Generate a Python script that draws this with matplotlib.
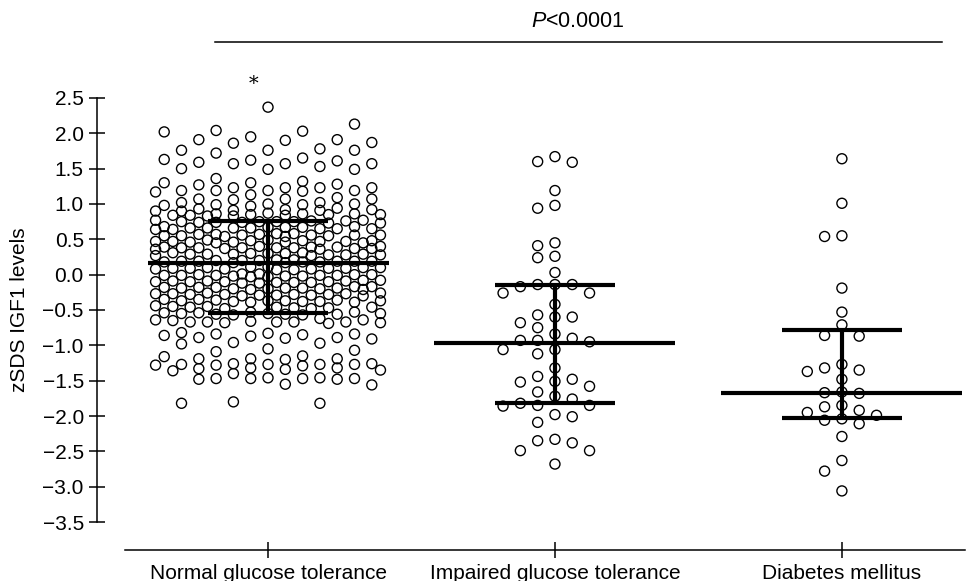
import numpy as np
import matplotlib
matplotlib.use('Agg')
import matplotlib.pyplot as plt

plt.rcParams['font.family'] = ['Liberation Sans', 'DejaVu Sans']
plt.rcParams['mathtext.fontset'] = 'custom'
plt.rcParams['mathtext.it'] = 'Liberation Sans:italic'
plt.rcParams['mathtext.rm'] = 'Liberation Sans'

# Daten
groups = ['Normal glucose tolerance', 'Impaired glucose tolerance', 'Diabetes mellitus']

ngt = [
    2.37, 2.13, 2.04, 2.02, 2.03, 1.95, 1.91, 1.87, 1.86, 1.90, 1.91, 1.78,
    1.76, 1.72, 1.76, 1.76, 1.63, 1.62, 1.57, 1.57, 1.53, 1.57, 1.59, 1.61,
    1.65, 1.49, 1.49, 1.50, 1.32, 1.30, 1.27, 1.23, 1.28, 1.23, 1.30, 1.36,
    1.23, 1.23, 1.19, 1.19, 1.17, 1.18, 1.19, 1.19, 1.09, 1.07, 1.06, 1.02,
    1.02, 1.07, 1.07, 1.13, 1.00, 0.99, 0.98, 0.97, 0.99, 1.00,
    0.93, 0.91, 0.92, 0.90, 0.94, 0.91, 0.92, 0.90,
    0.86, 0.84, 0.85, 0.87, 0.83, 0.85, 0.86, 0.84, 0.85, 0.83, 0.86, 0.84,
    0.76, 0.74, 0.75, 0.77, 0.73, 0.75, 0.74, 0.76, 0.75, 0.73, 0.77, 0.74, 0.75,
    0.67, 0.65, 0.66, 0.68, 0.64, 0.66, 0.67, 0.65, 0.66, 0.64, 0.68, 0.65, 0.66, 0.67,
    0.57, 0.55, 0.56, 0.58, 0.54, 0.56, 0.57, 0.55, 0.56, 0.54, 0.58, 0.55, 0.56, 0.57,
    0.48, 0.46, 0.47, 0.49, 0.45, 0.47, 0.48, 0.46, 0.47, 0.45, 0.49, 0.46, 0.47, 0.48,
    0.39, 0.37, 0.38, 0.40, 0.36, 0.38, 0.39, 0.37, 0.38, 0.36, 0.40, 0.37, 0.38, 0.39, 0.38,
    0.30, 0.28, 0.29, 0.31, 0.27, 0.29, 0.30, 0.28, 0.29, 0.27, 0.31, 0.28, 0.29, 0.30,
    0.20, 0.18, 0.19, 0.21, 0.17, 0.19, 0.20, 0.18, 0.19, 0.17, 0.21, 0.18, 0.19, 0.20, 0.19,
    0.10, 0.08, 0.09, 0.11, 0.07, 0.09, 0.10, 0.08, 0.09, 0.07, 0.11, 0.08, 0.09, 0.10,
    0.00, -0.02, -0.01, 0.01, -0.03, -0.01, 0.00, -0.02, -0.01, -0.03, 0.01, -0.02, -0.01, 0.00, -0.01,
    -0.09, -0.11, -0.10, -0.08, -0.12, -0.10, -0.09, -0.11, -0.10, -0.12, -0.08, -0.11, -0.10, -0.09,
    -0.18, -0.20, -0.19, -0.17, -0.21, -0.19, -0.18, -0.20, -0.19, -0.21, -0.17, -0.20, -0.19, -0.18,
    -0.27, -0.29, -0.28, -0.26, -0.30, -0.28, -0.27, -0.29, -0.28, -0.30, -0.26, -0.29, -0.28, -0.27,
    -0.36, -0.38, -0.37, -0.35, -0.39, -0.37, -0.36, -0.38, -0.37, -0.39, -0.35, -0.38, -0.37,
    -0.45, -0.47, -0.46, -0.44, -0.48, -0.46, -0.45, -0.47, -0.46, -0.48,
    -0.54, -0.56, -0.55, -0.53, -0.57, -0.55, -0.54, -0.56, -0.55, -0.57, -0.53, -0.56,
    -0.62, -0.64, -0.66, -0.67, -0.68, -0.67, -0.69, -0.67, -0.68, -0.67, -0.67, -0.65, -0.64,
    -0.84, -0.86, -0.87, -0.90, -0.83, -0.82, -0.91, -0.89, -0.89, -0.85, -0.84,
    -0.96, -0.98, -0.97, -1.07, -1.05, -1.09, -1.16, -1.15,
    -1.19, -1.19, -1.20, -1.19,
    -1.27, -1.26, -1.28, -1.27, -1.29, -1.27, -1.26, -1.28, -1.27,
    -1.35, -1.32, -1.33, -1.34, -1.32, -1.40, -1.36,
    -1.47, -1.46, -1.48, -1.47, -1.48, -1.47, -1.46, -1.47,
    -1.56, -1.55, -1.80, -1.82, -1.82,
]

igt = [
    1.67, 1.60, 1.59, 1.19, 0.98, 0.94, 0.45, 0.41, 0.26, 0.24, 0.03,
    -0.14, -0.14, -0.17, -0.14, -0.26, -0.26, -0.42,
    -0.60, -0.68, -0.60, -0.57, -0.75,
    -0.84, -0.93, -0.93, -0.90, -0.95, -1.12, -1.06, -1.06,
    -1.32, -1.44, -1.51, -1.58, -1.52, -1.48, -1.66,
    -1.72, -1.85, -1.82, -1.85, -1.76, -1.86,
    -1.98, -2.01, -2.09,
    -2.35, -2.49, -2.38, -2.33, -2.49, -2.68,
]

dm = [
    1.64, 1.01, 0.55, 0.54, -0.19, -0.53, -0.71, -0.87, -0.86,
    -1.27, -1.35, -1.37, -1.32, -1.48, -1.66, -1.67, -1.68,
    -1.85, -1.92, -1.99, -2.06, -2.04, -1.95, -2.11, -1.87,
    -2.29, -2.63, -2.78, -3.06,
]

means = [0.17, -0.96, -1.67]
upper = [0.76, -0.15, -0.79]
lower = [-0.54, -1.81, -2.03]

p_label = r'$\mathit{P}$<0.0001'

fig = plt.figure(figsize=(9.71, 5.81), dpi=100)
ax = fig.add_axes([97 / 971, 31 / 581, 868 / 971, 535 / 581])
ax.set_xlim(-0.596, 2.429)
ax.set_ylim(-3.896, 3.674)

COL = 17.3  # Spaltenabstand in Pixeln


def to_px(vals, center):
    vals = np.asarray(vals, dtype=float)
    pts = ax.transData.transform(np.column_stack([np.full(len(vals), center), vals]))
    return pts[0, 0], pts[:, 1], vals


def to_data(xs, ys):
    back = ax.transData.inverted().transform(np.column_stack([xs, ys]))
    return back[:, 0]


def swarm(vals, center, max_cols=3, d_px=11.5):
    # Beeswarm, Spalten von der Mitte nach aussen
    x0, ys, vals = to_px(vals, center)
    cands = [0]
    for k in range(1, max_cols + 1):
        cands += [-k, k]
    px, py = [], []
    xs = np.zeros(len(vals))
    for i in np.argsort(-ys):
        chosen, best_d, best_x = None, -1, x0
        for c in cands:
            xc = x0 + c * COL
            d = np.min(np.hypot(np.array(px) - xc, np.array(py) - ys[i])) if px else np.inf
            if d >= d_px:
                chosen = xc
                break
            if d > best_d:
                best_d, best_x = d, xc
        xs[i] = best_x if chosen is None else chosen
        px.append(xs[i])
        py.append(ys[i])
    return to_data(xs, ys), vals


def wide_swarm(vals, center, dy0=9.5):
    # breite Anordnung ueber feste Spalten (wie im Original)
    x0, ys, vals = to_px(vals, center)
    full = [((j * 5 + 6) % 13) - 6 for j in range(13)]
    half = [((j * 5 + 7) % 14) - 6.5 for j in range(14)]
    px, py = [], []
    xs = np.zeros(len(vals))
    pf, ph = 0, 0

    def metric(xc, y):
        if not px:
            return np.inf
        return np.min(((np.array(px) - xc) / COL) ** 2 + ((np.array(py) - y) / dy0) ** 2)

    for i in np.argsort(-ys):
        chosen = None
        for k in range(13):
            idx = (pf + k) % 13
            xc = x0 + full[idx] * COL
            if metric(xc, ys[i]) >= 1:
                chosen, pf = xc, idx + 1
                break
        if chosen is None:
            for k in range(14):
                idx = (ph + k) % 14
                xc = x0 + half[idx] * COL
                if metric(xc, ys[i]) >= 1:
                    chosen, ph = xc, idx + 1
                    break
        if chosen is None:
            allc = [x0 + c * COL for c in full + half]
            scores = [metric(xc, ys[i]) for xc in allc]
            chosen = allc[int(np.argmax(scores))]
        xs[i] = chosen
        px.append(chosen)
        py.append(ys[i])
    return to_data(xs, ys), vals


for i, vals in enumerate([ngt, igt, dm]):
    if i == 0:
        x, y = wide_swarm(vals, i)
    else:
        x, y = swarm(vals, i)
    ax.scatter(x, y, s=52, facecolors='none', edgecolors='black', linewidths=1.0, zorder=2)
    # Mittelwert und Streuung
    ax.hlines(means[i], i - 0.42, i + 0.42, colors='black', lw=3, zorder=3)
    ax.hlines([upper[i], lower[i]], i - 0.21, i + 0.21, colors='black', lw=3, zorder=3)
    ax.vlines(i, lower[i], upper[i], colors='black', lw=3, zorder=3)

# Achsen
for s in ['top', 'right']:
    ax.spines[s].set_visible(False)
ax.spines['left'].set_bounds(-3.5, 2.5)
ax.spines['bottom'].set_bounds(-0.5, 2.429)
ax.spines['left'].set_linewidth(1.1)
ax.spines['bottom'].set_linewidth(1.1)

yt = np.arange(-3.5, 2.51, 0.5)
ax.set_yticks(yt)
ax.set_yticklabels([f'{v:.1f}'.replace('-', '\u2212') for v in yt], fontsize=15)
ax.set_xticks([0, 1, 2])
ax.set_xticklabels(groups, fontsize=15)
ax.tick_params(direction='inout', length=12, width=1.1)
ax.tick_params(axis='x', pad=4)
ax.tick_params(axis='y', pad=3.5)
ax.set_ylabel('zSDS IGF1 levels', fontsize=15)
ax.yaxis.set_label_coords(-0.078, 0.449)

# Signifikanz
ax.plot([-0.185, 2.348], [3.29, 3.29], color='black', lw=1.1, clip_on=False)
ax.text(1.08, 3.575, p_label, ha='center', va='center', fontsize=15.5)
ax.text(-0.049, 2.70, '*', ha='center', va='center', fontsize=14, family='DejaVu Serif')

fig.savefig('out.png', dpi=100)
